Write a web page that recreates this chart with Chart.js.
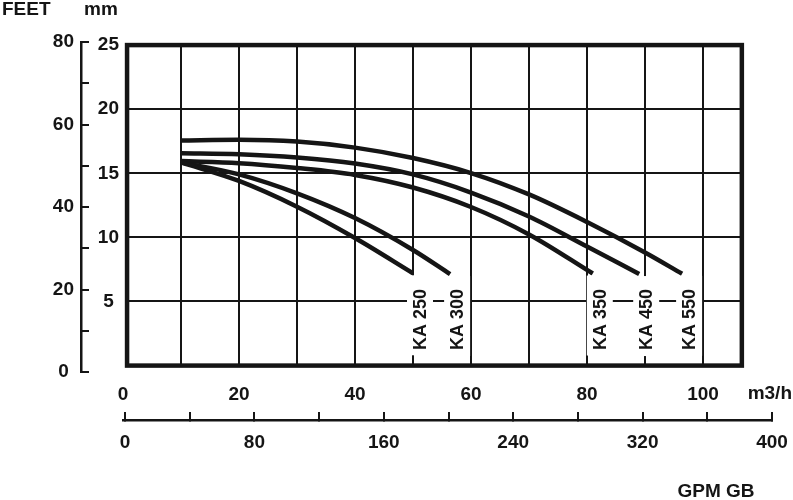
<!DOCTYPE html>
<html>
<head>
<meta charset="utf-8">
<title>KA pump curves</title>
<script src="https://cdn.jsdelivr.net/npm/chart.js@4.4.1/dist/chart.umd.min.js"></script>
<style>
  body { margin: 0; background: #fff; }
  #wrap { width: 793px; height: 500px; }
</style>
</head>
<body>
<div id="wrap"><canvas id="pumpChart" width="793" height="500"></canvas></div>
<script>
// flow in m3/h, head in m
const flowKA250 = [10, 20, 30, 40, 50];
const headKA250 = [15.85, 14.4, 12.39, 9.95, 7.2];
const flowKA300 = [10, 20, 30, 40, 50, 56.4];
const headKA300 = [15.85, 14.92, 13.44, 11.51, 9.02, 7.14];
const flowKA350 = [10, 20, 30, 40, 50, 60, 70, 81];
const headKA350 = [15.95, 15.79, 15.41, 14.87, 13.89, 12.37, 10.23, 7.18];
const flowKA450 = [10, 20, 30, 40, 50, 60, 70, 80, 89];
const headKA450 = [16.56, 16.48, 16.23, 15.76, 14.91, 13.5, 11.63, 9.29, 7.14];
const flowKA550 = [10, 20, 30, 40, 50, 60, 70, 80, 90, 96.4];
const headKA550 = [17.56, 17.61, 17.47, 17.0, 16.19, 15.02, 13.35, 11.2, 8.82, 7.16];
const pumpNames = ["KA 250", "KA 300", "KA 350", "KA 450", "KA 550"];

// axis ticks
const flowTicks = [0, 20, 40, 60, 80, 100];
const headTicks = [5, 10, 15, 20, 25];
const feetTicks = [0, 10, 20, 30, 40, 50, 60, 70, 80];
const feetLabels = ["0", "", "20", "", "40", "", "60", "", "80"];
const gpmTicks = [0, 40, 80, 120, 160, 200, 240, 280, 320, 360, 400];
const gpmLabels = ["0", "", "80", "", "160", "", "240", "", "320", "", "400"];
const gridFlow = [10, 20, 30, 40, 50, 60, 70, 80, 90, 100];
const gridHead = [5, 10, 15, 20];

const INK = "#151515";
const FRAME_FLOW = [0.7, 106.7];
const LABEL_HEAD = 3.6;

Chart.defaults.font.family = "'Liberation Sans', Arial, sans-serif";
Chart.defaults.font.size = 19;
Chart.defaults.font.weight = "bold";
Chart.defaults.color = INK;

const toPoints = (flow, head) => flow.map((q, i) => ({ x: q, y: head[i] }));
const setTicks = (values) => (scale) => {
  scale.ticks = values.map((v) => ({ value: v }));
};
// fixed axis size, and no extra room asked for overhanging labels
const fixSize = (size) => (scale) => {
  if (scale.isHorizontal()) scale.height = size;
  else scale.width = size;
  scale.paddingLeft = scale.paddingRight = scale.paddingTop = scale.paddingBottom = 0;
};

// grid, frame and the texts that are not tick labels
const framePlugin = {
  id: "framePlugin",
  beforeDatasetsDraw(chart) {
    const { ctx } = chart;
    const x = chart.scales.x;
    const y = chart.scales.yM;
    const left = x.getPixelForValue(FRAME_FLOW[0]);
    const right = x.getPixelForValue(FRAME_FLOW[1]);
    const top = y.getPixelForValue(25);
    const bottom = y.getPixelForValue(0);

    ctx.save();
    ctx.strokeStyle = INK;
    ctx.lineWidth = 2;
    ctx.beginPath();
    gridFlow.forEach((q) => {
      const px = Math.round(x.getPixelForValue(q));
      ctx.moveTo(px, top);
      ctx.lineTo(px, bottom);
    });
    gridHead.forEach((h) => {
      const py = Math.round(y.getPixelForValue(h));
      ctx.moveTo(left, py);
      ctx.lineTo(right, py);
    });
    ctx.stroke();
    ctx.lineWidth = 4.5;
    ctx.strokeRect(left, top, right - left, bottom - top);
    ctx.restore();
  },
  afterDatasetsDraw(chart) {
    const { ctx } = chart;
    const y = chart.scales.yM;
    ctx.save();
    ctx.font = "bold 18px 'Liberation Sans', Arial, sans-serif";
    ctx.textAlign = "center";
    ctx.textBaseline = "middle";
    chart.data.datasets.forEach((ds, i) => {
      const meta = chart.getDatasetMeta(i);
      const end = meta.data[meta.data.length - 1];
      const cx = end.x + 7;
      const cy = y.getPixelForValue(LABEL_HEAD);
      ctx.fillStyle = "#fff";
      ctx.fillRect(cx - 13, end.y + 2, 26, 80);
      ctx.save();
      ctx.translate(cx, cy);
      ctx.rotate(-Math.PI / 2);
      ctx.fillStyle = INK;
      ctx.fillText(ds.label, 0, 1);
      ctx.restore();
    });

    ctx.font = "bold 19px 'Liberation Sans', Arial, sans-serif";
    ctx.fillStyle = INK;
    ctx.textBaseline = "alphabetic";
    ctx.textAlign = "left";
    ctx.fillText("FEET", 2, 15);
    ctx.textAlign = "center";
    ctx.fillText("mm", 101, 15);
    ctx.fillText("GPM GB", 716, 497);
    ctx.textAlign = "right";
    ctx.textBaseline = "middle";
    ctx.fillText("m3/h", chart.width - 1, chart.scales.x.top + 22);
    ctx.restore();
  },
};

const flows = [flowKA250, flowKA300, flowKA350, flowKA450, flowKA550];
const heads = [headKA250, headKA300, headKA350, headKA450, headKA550];

const ctx = document.getElementById("pumpChart").getContext("2d");
const pumpChart = new Chart(ctx, {
  type: "line",
  data: {
    datasets: pumpNames.map((name, i) => ({
      label: name,
      data: toPoints(flows[i], heads[i]),
      xAxisID: "x",
      yAxisID: "yM",
      borderColor: INK,
      borderWidth: 4.5,
      pointRadius: 0,
      fill: false,
      cubicInterpolationMode: "monotone",
    })),
  },
  options: {
    responsive: false,
    animation: false,
    devicePixelRatio: 1,
    layout: { padding: { top: 42, right: 21, bottom: 0, left: 0 } },
    plugins: {
      legend: { display: false },
      tooltip: { enabled: false },
    },
    scales: {
      x: {
        type: "linear",
        position: "bottom",
        weight: 0,
        bounds: "data",
        min: 0,
        max: 111.9,
        afterBuildTicks: setTicks(flowTicks),
        afterFit: fixSize(48),
        ticks: { autoSkip: false, maxRotation: 0, padding: 11, callback: (v) => String(v) },
        grid: { display: false, drawTicks: false },
        border: { display: false },
      },
      xGpm: {
        type: "linear",
        position: "bottom",
        weight: 1,
        bounds: "data",
        min: -1.24,
        max: 400,
        afterBuildTicks: setTicks(gpmTicks),
        afterFit: fixSize(80),
        ticks: { autoSkip: false, maxRotation: 0, padding: 19, callback: (v, i) => gpmLabels[i] },
        grid: { display: true, drawOnChartArea: false, drawTicks: true, tickLength: -8, color: INK, lineWidth: 2 },
        border: { display: true, color: INK, width: 2.5 },
      },
      yM: {
        type: "linear",
        position: "left",
        weight: 0,
        bounds: "data",
        min: -0.5,
        max: 25.24,
        afterBuildTicks: setTicks(headTicks),
        afterFit: fixSize(42),
        ticks: { autoSkip: false, padding: 4, crossAlign: "center", callback: (v) => String(v) },
        grid: { display: false, drawTicks: false },
        border: { display: false },
      },
      yFt: {
        type: "linear",
        position: "left",
        weight: 1,
        bounds: "data",
        min: 0,
        max: 80,
        afterBuildTicks: setTicks(feetTicks),
        afterFit: fixSize(81),
        ticks: { autoSkip: false, padding: 15, crossAlign: "center", callback: (v, i) => feetLabels[i] },
        grid: { display: true, drawOnChartArea: false, drawTicks: true, tickLength: -8, color: INK, lineWidth: 2 },
        border: { display: true, color: INK, width: 2.5 },
      },
    },
  },
  plugins: [framePlugin],
});
</script>
</body>
</html>
